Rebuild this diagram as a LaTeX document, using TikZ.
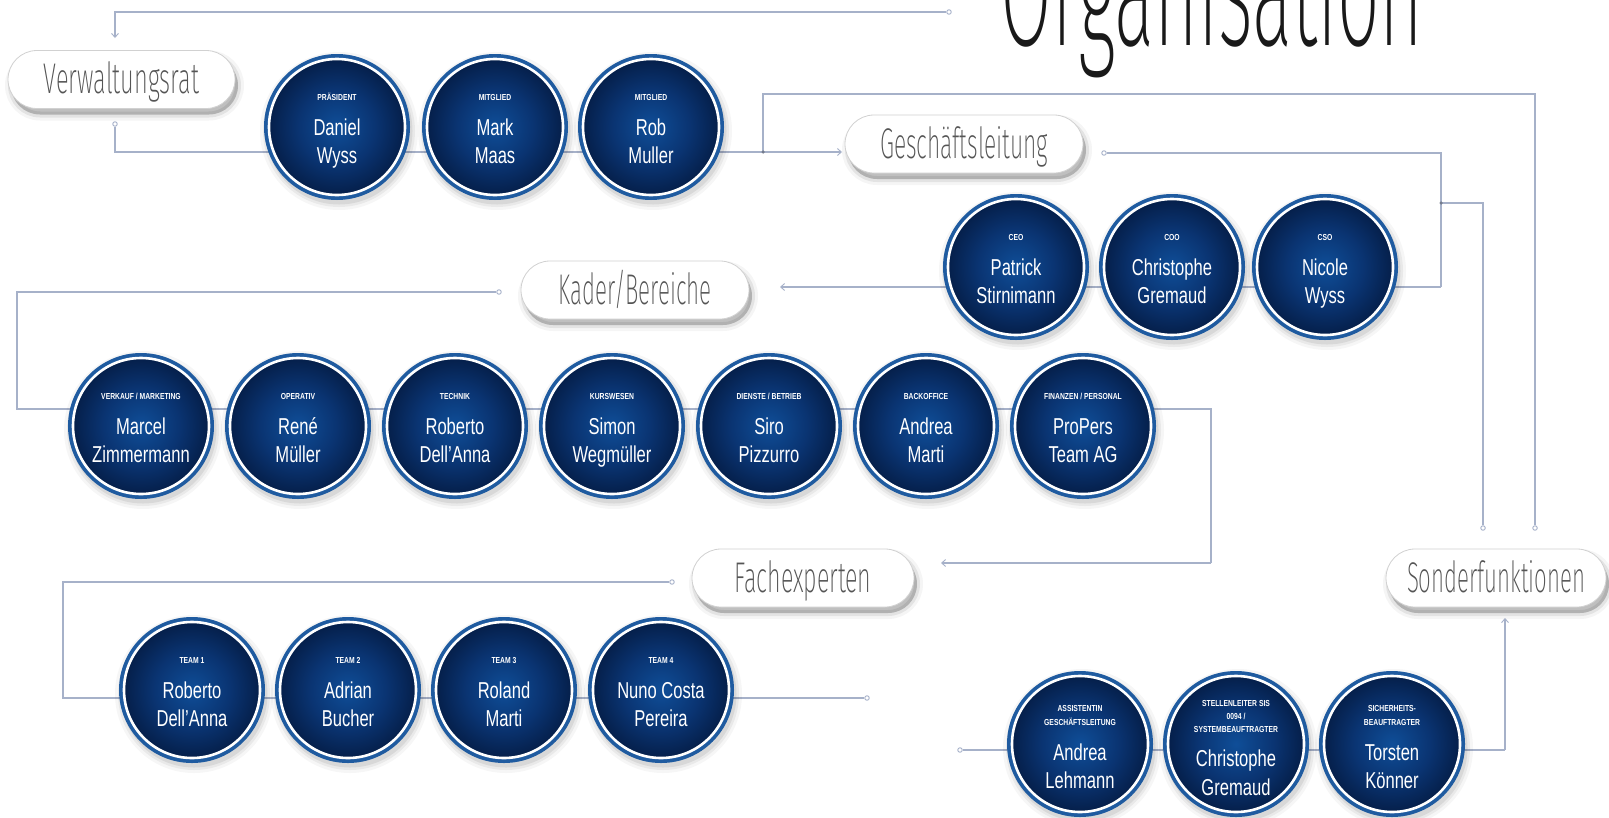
\documentclass[tikz,border=0pt]{standalone}
\usepackage{fontspec}
\usepackage{graphicx}
\usetikzlibrary{shapes.misc,arrows.meta,calc}
\setmainfont{Liberation Sans}
\newfontfamily\titlefont{Fira Sans ExtraLight}
\newfontfamily\namefont{Liberation Sans}[FakeStretch=0.72]
\newfontfamily\labelfont{Liberation Sans}[FakeStretch=0.78]

\definecolor{lc}{HTML}{A6B1C9}
\definecolor{ringblue}{HTML}{1F5BA0}
\definecolor{discA}{HTML}{0F4E98}
\definecolor{discB}{HTML}{0A3472}
\definecolor{discC}{HTML}{051F4A}
\definecolor{pilltext}{HTML}{555555}
\pgfdeclareradialshading{disc}{\pgfpoint{0bp}{0bp}}{color(0bp)=(discA); color(14bp)=(discB); color(25bp)=(discC); color(50bp)=(discC)}
\pgfdeclarelayer{back}
\pgfdeclarelayer{bg}
\pgfsetlayers{back,bg,main}

\tikzset{
 ln/.style={draw=lc, line width=1.1pt},
 arr/.style={ln, -{Straight Barb[length=4pt,width=7pt,line width=0.9pt]}},
 circshadow/.style={
   preaction={draw=black, draw opacity=0.035, line width=22pt, transform canvas={xshift=2pt,yshift=-4pt}},
   preaction={draw=black, draw opacity=0.05, line width=16pt, transform canvas={xshift=2pt,yshift=-4pt}},
   preaction={draw=black, draw opacity=0.07, line width=11pt, transform canvas={xshift=2pt,yshift=-4pt}}},
 pillshadow/.style={
   preaction={draw=black, draw opacity=0.04, line width=12pt, transform canvas={xshift=3pt,yshift=-6pt}},
   preaction={draw=black, draw opacity=0.07, line width=6pt, transform canvas={xshift=3pt,yshift=-6pt}},
   preaction={fill=black, fill opacity=0.22, transform canvas={xshift=3pt,yshift=-6pt}}},
 pc/.style={circle, minimum size=136pt, inner sep=0pt, circshadow,
   preaction={draw=ringblue, line width=10pt},
   shading=disc, draw=white, line width=2.6pt},
 pill/.style={rounded rectangle, inner sep=0pt, pillshadow, fill=white, draw=black!18, line width=0.8pt},
 pilltxt/.style={anchor=base, inner sep=0pt, text=pilltext, font=\titlefont\fontsize{43}{45}\selectfont},
 lab/.style={anchor=base, inner sep=0pt, text=white, font=\labelfont\bfseries\fontsize{8.7}{10}\selectfont},
 nm/.style={anchor=base, inner sep=0pt, text=white, font=\namefont\fontsize{23}{25}\selectfont},
 odot/.style={circle, draw=lc, fill=white, line width=0.9pt, inner sep=0pt, minimum size=4.5pt},
 jdot/.style={circle, fill=lc!70!black, inner sep=0pt, minimum size=3.5pt},
}

\newcommand\pcirc[6]{%
 \node[pc] (#1) at (#2,#3) {};
 \node[lab] (#1-l) at ($(#1.center)+(0,-27)$) {#4};
 \node[nm] (#1-a) at ($(#1.center)+(0,8)$) {#5};
 \node[nm] (#1-b) at ($(#1.center)+(0,36)$) {#6};
}

\begin{document}
\begin{tikzpicture}[x=1pt,y=-1pt]
\useasboundingbox (0,0) rectangle (1609,817);
\begin{pgfonlayer}{back}
\fill[white] (0,0) rectangle (1609,817);
\end{pgfonlayer}
\clip (0,0) rectangle (1609,817);

% title
\node[anchor=base west, inner sep=0pt, text=black!90, font=\titlefont\fontsize{160}{160}\selectfont] (title) at (1000,45) {\resizebox{423pt}{\height}{Organisation}};

% pills
\node[pill, minimum width=227pt, minimum height=58pt] (verw) at (121.5,79.5) {};
\node[pilltxt] (verw-t) at ($(verw.center)+(0,14)$) {\resizebox{155pt}{\height}{Verwaltungsrat}};
\node[pill, minimum width=238pt, minimum height=58pt] (gl) at (964,144) {};
\node[pilltxt] (gl-t) at ($(gl.center)+(0,14)$) {\resizebox{168pt}{\height}{Geschäftsleitung}};
\node[pill, minimum width=228pt, minimum height=58pt] (kader) at (635,290) {};
\node[pilltxt] (kader-t) at ($(kader.center)+(0,14)$) {\resizebox{153pt}{\height}{Kader/Bereiche}};
\node[pill, minimum width=222pt, minimum height=58pt] (fach) at (803,578) {};
\node[pilltxt] (fach-t) at ($(fach.center)+(0,14)$) {\resizebox{137pt}{\height}{Fachexperten}};
\node[pill, minimum width=220pt, minimum height=58pt] (sonder) at (1496,578) {};
\node[pilltxt] (sonder-t) at ($(sonder.center)+(0,14)$) {\resizebox{178pt}{\height}{Sonderfunktionen}};

% row 1
\pcirc{daniel}{337}{127}{PRÄSIDENT}{Daniel}{Wyss}
\pcirc{mark}{495}{127}{MITGLIED}{Mark}{Maas}
\pcirc{rob}{651}{127}{MITGLIED}{Rob}{Muller}
% row 2
\pcirc{patrick}{1016}{267}{CEO}{Patrick}{Stirnimann}
\pcirc{chris}{1172}{267}{COO}{Christophe}{Gremaud}
\pcirc{nicole}{1325}{267}{CSO}{Nicole}{Wyss}
% row 3
\pcirc{marcel}{141}{426}{VERKAUF / MARKETING}{Marcel}{Zimmermann}
\pcirc{rene}{298}{426}{OPERATIV}{René}{Müller}
\pcirc{roberto}{455}{426}{TECHNIK}{Roberto}{Dell’Anna}
\pcirc{simon}{612}{426}{KURSWESEN}{Simon}{Wegmüller}
\pcirc{siro}{769}{426}{DIENSTE / BETRIEB}{Siro}{Pizzurro}
\pcirc{andrea}{926}{426}{BACKOFFICE}{Andrea}{Marti}
\pcirc{propers}{1083}{426}{FINANZEN / PERSONAL}{ProPers}{Team AG}
% row 4
\pcirc{team1}{192}{690}{TEAM 1}{Roberto}{Dell’Anna}
\pcirc{team2}{348}{690}{TEAM 2}{Adrian}{Bucher}
\pcirc{team3}{504}{690}{TEAM 3}{Roland}{Marti}
\pcirc{team4}{661}{690}{TEAM 4}{Nuno Costa}{Pereira}
% row 5
\node[pc] (lehmann) at (1080,744) {};
\node[lab] (lehmann-l1) at ($(lehmann.center)+(0,-33)$) {ASSISTENTIN};
\node[lab] (lehmann-l2) at ($(lehmann.center)+(0,-19)$) {GESCHÄFTSLEITUNG};
\node[nm] (lehmann-a) at ($(lehmann.center)+(0,16)$) {Andrea};
\node[nm] (lehmann-b) at ($(lehmann.center)+(0,44)$) {Lehmann};
\node[pc] (gremaud) at (1236,744) {};
\node[lab] (gremaud-l1) at ($(gremaud.center)+(0,-38)$) {STELLENLEITER SIS};
\node[lab] (gremaud-l2) at ($(gremaud.center)+(0,-25)$) {0094 /};
\node[lab] (gremaud-l3) at ($(gremaud.center)+(0,-12)$) {SYSTEMBEAUFTRAGTER};
\node[nm] (gremaud-a) at ($(gremaud.center)+(0,22)$) {Christophe};
\node[nm] (gremaud-b) at ($(gremaud.center)+(0,51)$) {Gremaud};
\node[pc] (koenner) at (1392,744) {};
\node[lab] (koenner-l1) at ($(koenner.center)+(0,-33)$) {SICHERHEITS-};
\node[lab] (koenner-l2) at ($(koenner.center)+(0,-19)$) {BEAUFTRAGTER};
\node[nm] (koenner-a) at ($(koenner.center)+(0,16)$) {Torsten};
\node[nm] (koenner-b) at ($(koenner.center)+(0,44)$) {Könner};

% connector end dots
\node[odot] (topdot) at (949,12) {};
\node[odot] (verwdot) at (115,124) {};
\node[odot] (gldot) at (1104,153) {};
\node[odot] (sfdot1) at (1483,528) {};
\node[odot] (sfdot2) at (1535,528) {};
\node[odot] (kdot) at (499,292) {};
\node[odot] (fdot) at (672,582) {};
\node[odot] (fend) at (867,698) {};
\node[odot] (sdot) at (960,750) {};

% bend coordinates
\coordinate (topL) at (115,12);
\coordinate (verwIn) at (115,38);
\coordinate (r1a) at (115,152);
\coordinate (r1j) at (763,152);
\coordinate (glIn) at (842,152);
\coordinate (t1) at (763,94);
\coordinate (t2) at (1535,94);
\coordinate (g1) at (1441,153);
\coordinate (gj) at (1441,203);
\coordinate (g2) at (1441,287);
\coordinate (g3) at (1483,203);
\coordinate (kIn) at (780,287);
\coordinate (k1) at (17,292);
\coordinate (k2) at (17,409);
\coordinate (k3) at (1211,409);
\coordinate (k4) at (1211,563);
\coordinate (fIn) at (941,563);
\coordinate (f1) at (63,582);
\coordinate (f2) at (63,698);
\coordinate (s1) at (1505,750);
\coordinate (sIn) at (1505,618);

\node[jdot] (r1jdot) at (r1j) {};
\node[jdot] (gjdot) at (gj) {};

\begin{pgfonlayer}{bg}
\draw[arr] (topdot) -- (topL) -- (verwIn);
\draw[ln] (verwdot) -- (r1a) -- (r1j);
\draw[arr] (r1j) -- (glIn);
\draw[ln] (r1j) -- (t1) -- (t2) -- (sfdot2);
\draw[ln] (gldot) -- (g1) -- (g2);
\draw[arr] (g2) -- (kIn);
\draw[ln] (gj) -- (g3) -- (sfdot1);
\draw[ln] (kdot) -- (k1) -- (k2) -- (k3) -- (k4);
\draw[arr] (k4) -- (fIn);
\draw[ln] (fdot) -- (f1) -- (f2) -- (fend);
\draw[ln] (sdot) -- (s1);
\draw[arr] (s1) -- (sIn);
\end{pgfonlayer}
\end{tikzpicture}
\end{document}
